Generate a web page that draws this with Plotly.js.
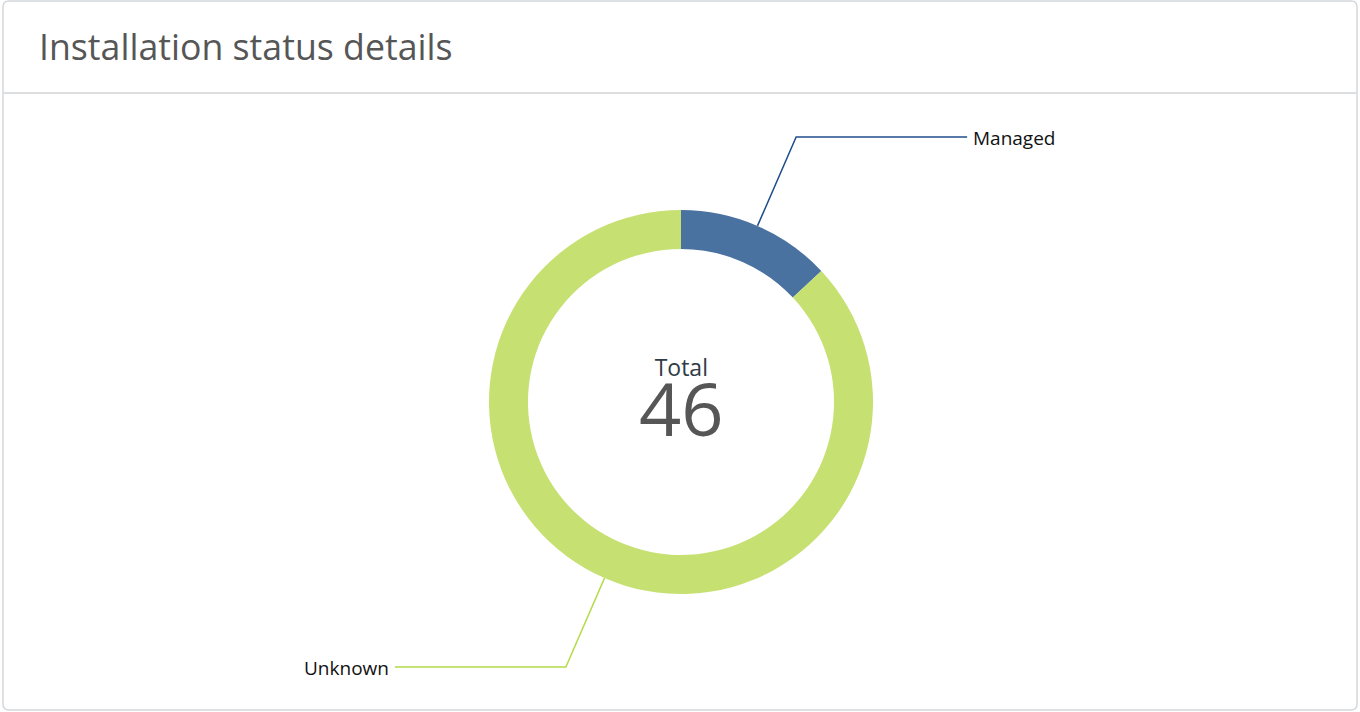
<!DOCTYPE html>
<html>
<head>
<meta charset="utf-8">
<script src="https://cdn.plot.ly/plotly-3.0.1.min.js"></script>
<style>
html,body{margin:0;padding:0;background:#fff;}
#chart{width:1360px;height:712px;}
</style>
</head>
<body>
<div id="chart"></div>
<script>
const categories = ["Managed", "Unknown"];
const values = [6, 40];
const sliceColors = ["#4a72a0", "#c6e072"];
const lineColors = ["#1f4d8c", "#b4dc4a"];
const chartTitle = "Installation status details";
const centerLabel = "Total";

const W = 1360, H = 712;
const cx = 681, cy = 402, R = 192;
const px = x => x / W;
const py = y => 1 - y / H;
const FONT = '"Open Sans", "Noto Sans", sans-serif';

const total = values.reduce((a, b) => a + b, 0);

const shapes = [];
const annotations = [];

// card border (rounded rect)
const x0 = 3, y0 = 1, x1 = 1357, y1 = 710, rr = 6;
shapes.push({
  type: 'path', xref: 'paper', yref: 'paper',
  path: `M ${px(x0+rr)} ${py(y0)} L ${px(x1-rr)} ${py(y0)} Q ${px(x1)} ${py(y0)} ${px(x1)} ${py(y0+rr)} L ${px(x1)} ${py(y1-rr)} Q ${px(x1)} ${py(y1)} ${px(x1-rr)} ${py(y1)} L ${px(x0+rr)} ${py(y1)} Q ${px(x0)} ${py(y1)} ${px(x0)} ${py(y1-rr)} L ${px(x0)} ${py(y0+rr)} Q ${px(x0)} ${py(y0)} ${px(x0+rr)} ${py(y0)} Z`,
  line: {color: '#d4d8db', width: 1.5}
});
// header divider
shapes.push({type: 'line', xref: 'paper', yref: 'paper', x0: px(x0), x1: px(x1), y0: py(93), y1: py(93), line: {color: '#dcdee0', width: 2}});

// leader lines computed from slice mid-angles
let cum = 0;
values.forEach((v, i) => {
  const mid = (cum + v / 2) / total * 2 * Math.PI;
  cum += v;
  const sx = Math.sin(mid), sy = -Math.cos(mid);
  const ax = cx + R * sx, ay = cy + R * sy;
  const ex = cx + (R + 97) * sx, ey = cy + (R + 97) * sy;
  const dir = sx >= 0 ? 1 : -1;
  const hx = ex + dir * 171;
  shapes.push({type: 'path', xref: 'paper', yref: 'paper',
    path: `M ${px(ax)} ${py(ay)} L ${px(ex)} ${py(ey)} L ${px(hx)} ${py(ey)}`,
    line: {color: lineColors[i], width: 1.5}});
  annotations.push({xref: 'paper', yref: 'paper', x: px(hx + dir * 4), y: py(ey + 1),
    xanchor: dir > 0 ? 'left' : 'right', yanchor: 'middle', showarrow: false,
    text: categories[i], font: {family: FONT, size: 19, color: '#111'}});
});

annotations.push({xref: 'paper', yref: 'paper', x: px(681), y: py(404), xanchor: 'center', yanchor: 'middle', showarrow: false,
  align: 'center',
  text: centerLabel + '<br><br><span style="font-size:74px;color:#565656">' + String(total) + '</span>',
  font: {family: FONT, size: 23, color: '#2f3b45'}});
annotations.push({xref: 'paper', yref: 'paper', x: px(37), y: py(46), xanchor: 'left', yanchor: 'middle', showarrow: false,
  text: chartTitle, font: {family: FONT, size: 35.7, color: '#565656'}});

const data = [{
  type: 'pie',
  labels: categories,
  values: values,
  hole: 0.797,
  sort: false,
  direction: 'clockwise',
  rotation: 0,
  textinfo: 'none',
  hoverinfo: 'label+value',
  marker: {colors: sliceColors, line: {width: 0}},
  domain: {x: [px(cx - R), px(cx + R)], y: [py(cy + R), py(cy - R)]},
  showlegend: false
}];

const layout = {
  width: W, height: H,
  margin: {l: 0, r: 0, t: 0, b: 0},
  paper_bgcolor: '#ffffff',
  plot_bgcolor: '#ffffff',
  showlegend: false,
  shapes: shapes,
  annotations: annotations
};

Plotly.newPlot('chart', data, layout, {displayModeBar: false, staticPlot: true});
</script>
</body>
</html>
